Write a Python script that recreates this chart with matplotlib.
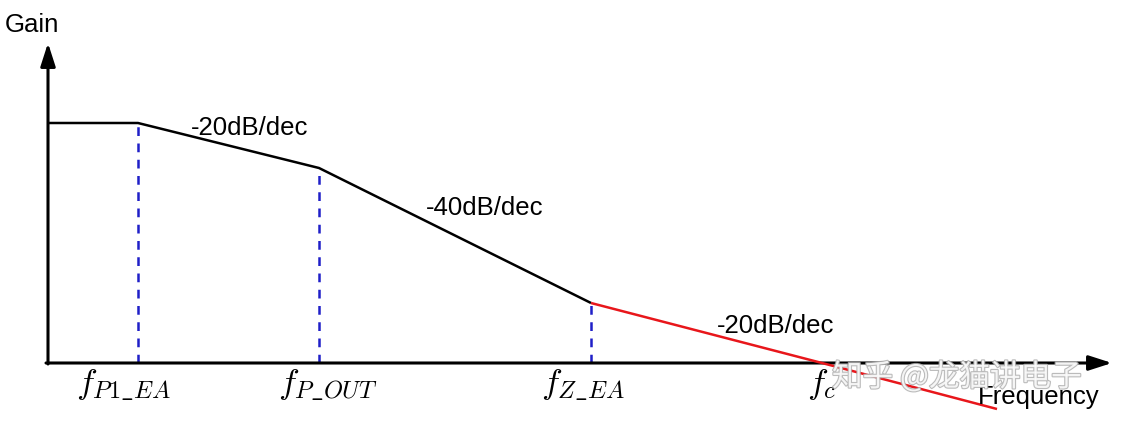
import matplotlib
matplotlib.use("Agg")
import matplotlib.pyplot as plt
import matplotlib.patheffects as pe

plt.rcParams['mathtext.fontset'] = 'cm'

# Asymptotic gain curve: breakpoints (log-frequency position, gain units above axis)
black_x = [48, 138, 319, 591]
black_gain = [240, 240, 195, 60]
red_x = [591, 822, 997]
red_gain = [60, 0, -46]

# Break frequency markers
marker_x = [138, 319, 591]
marker_gain = [240, 195, 60]
freq_labels = [r'$f_{P1\_EA}$', r'$f_{P\_OUT}$', r'$f_{Z\_EA}$', r'$f_c$']
freq_label_x = [124, 328, 583, 822]

slope_labels = ['-20dB/dec', '-40dB/dec', '-20dB/dec']
slope_label_pos = [(250, 235), (485, 155), (776, 37)]

AXIS_Y = 363  # pixel row of the frequency axis
W, H = 1122, 424

fig = plt.figure(figsize=(W / 100, H / 100), dpi=100)
ax = fig.add_axes([0, 0, 1, 1])
ax.set_xlim(0, W)
ax.set_ylim(AXIS_Y - H, AXIS_Y)  # gain units: 0 at axis
ax.axis('off')

# axes with arrows
ax.annotate('', xy=(1112, 0), xytext=(46, 0),
            arrowprops=dict(arrowstyle='-|>,head_length=1.4,head_width=0.45', color='black', lw=2.2,
                            shrinkA=0, shrinkB=0))
ax.annotate('', xy=(48, AXIS_Y - 43), xytext=(48, -1),
            arrowprops=dict(arrowstyle='-|>,head_length=1.4,head_width=0.45', color='black', lw=2.2,
                            shrinkA=0, shrinkB=0))

ax.plot(black_x, black_gain, color='black', lw=1.8, solid_capstyle='butt', zorder=3)
ax.plot(red_x, red_gain, color='#e8161b', lw=1.8, solid_capstyle='butt', zorder=3)

for mx, mg in zip(marker_x, marker_gain):
    ax.plot([mx, mx], [0, mg], color='#1f1fc8', lw=1.8, ls=(0, (3.5, 3)), zorder=2)

txt = dict(family=['Liberation Sans', 'DejaVu Sans'], fontsize=18.5, color='black')
for s, (x, y) in zip(slope_labels, slope_label_pos):
    ax.text(x, y, s, ha='center', va='center', **txt)

for lab, x in zip(freq_labels, freq_label_x):
    ax.text(x, AXIS_Y - 385, lab, ha='center', va='center', fontsize=25)

ax.text(5, AXIS_Y - 25, 'Gain', ha='left', va='center', **txt)
ax.text(1100, AXIS_Y - 397, 'Frequency', ha='right', va='center', **txt, zorder=4)

# watermark
ax.text(832, AXIS_Y - 377, '知乎 @龙猫讲电子', ha='left', va='center', fontsize=22,
        family=['Noto Sans CJK SC', 'DejaVu Sans'], color='white', alpha=0.85, zorder=5,
        path_effects=[pe.Stroke(linewidth=1.6, foreground='#b0b0b0'), pe.Normal()])

fig.savefig('out.png', dpi=100)
